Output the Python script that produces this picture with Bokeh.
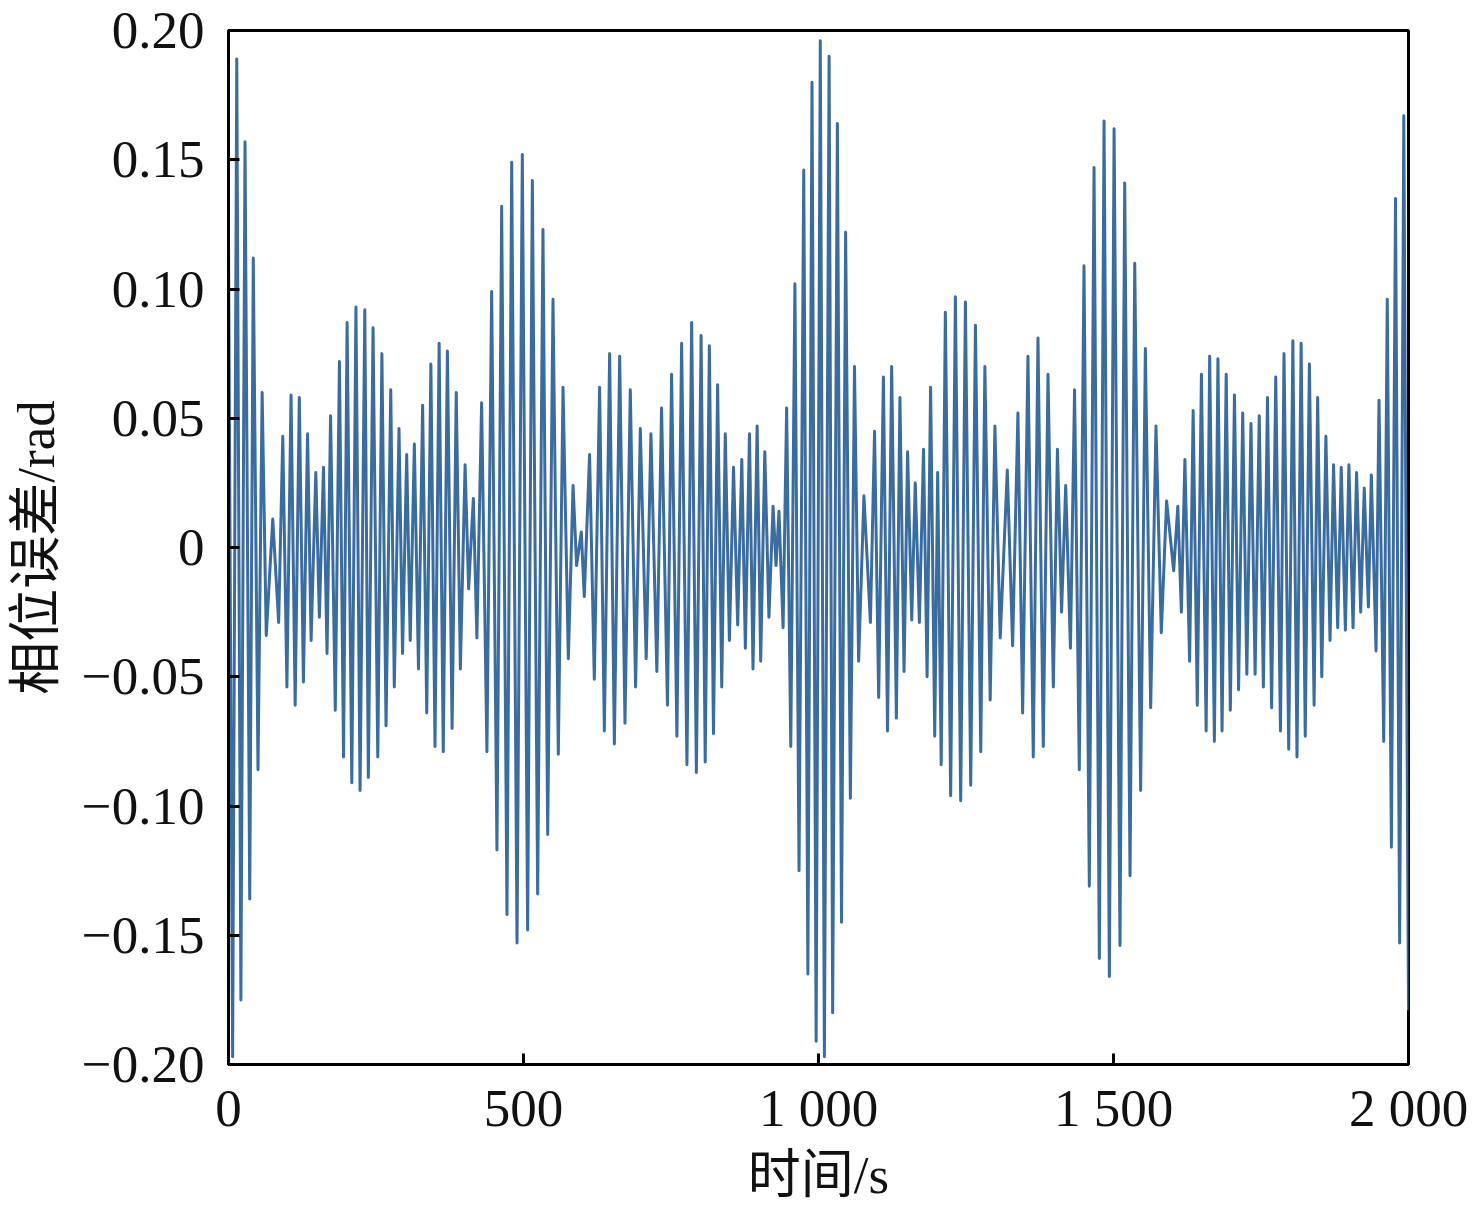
import numpy as np
from bokeh.plotting import figure
from bokeh.models import FixedTicker, Range1d
from bokeh.embed import file_html
from bokeh.resources import INLINE

# Local maxima (time in s, phase error in rad)
peak_t = [14, 28, 42, 57, 75, 92, 106, 120, 134, 148, 161, 173, 188, 201, 216, 231, 245, 260,
          275, 289, 302, 315, 329, 343, 357, 371, 386, 401, 415, 429, 446, 463, 480, 498,
          515, 533, 550, 567, 584, 598, 612, 629, 646, 663, 681, 698, 716, 734, 751, 768,
          785, 801, 815, 829, 842, 856, 870, 883, 896, 909, 923, 933, 946, 960, 975, 989, 1003,
          1018, 1032, 1046, 1061, 1077, 1095, 1110, 1124, 1138, 1151, 1164, 1178, 1190, 1202,
          1215, 1232, 1249, 1266, 1282, 1299, 1320, 1338, 1355, 1372, 1389, 1405, 1419, 1434,
          1450, 1467, 1484, 1501,
          1519, 1536, 1554, 1572, 1590, 1609, 1621, 1635, 1649, 1663, 1677, 1691, 1705, 1719,
          1733, 1747, 1761, 1775, 1789, 1804, 1818, 1832, 1846, 1860, 1873, 1886, 1899, 1912,
          1925, 1937, 1950, 1964, 1978, 1992]
peak_v = [0.189, 0.157, 0.112, 0.060, 0.011, 0.043, 0.059, 0.058, 0.044, 0.029, 0.031, 0.051,
          0.072, 0.087, 0.093, 0.092, 0.085, 0.075, 0.061, 0.046, 0.036, 0.040, 0.055, 0.071,
          0.079, 0.076, 0.060, 0.032, 0.019, 0.056, 0.099, 0.132, 0.149, 0.152,
          0.142, 0.123, 0.096, 0.062, 0.024, 0.006, 0.036, 0.062, 0.075, 0.074, 0.061, 0.046,
          0.044, 0.054, 0.067, 0.079, 0.087, 0.082, 0.078, 0.063, 0.044, 0.031, 0.034, 0.044,
          0.047, 0.037, 0.016, 0.014, 0.054, 0.102, 0.146, 0.180, 0.196,
          0.190, 0.164, 0.122, 0.070, 0.020, 0.045, 0.066, 0.070, 0.058, 0.037, 0.025, 0.038,
          0.062, 0.029, 0.091, 0.097, 0.095, 0.086, 0.070, 0.047, 0.030, 0.052, 0.074, 0.081,
          0.067, 0.038, 0.024, 0.061, 0.109, 0.147, 0.165, 0.162,
          0.141, 0.110, 0.077, 0.047, 0.018, 0.016, 0.034, 0.053, 0.067, 0.074, 0.073, 0.067,
          0.059, 0.052, 0.048, 0.051, 0.058, 0.066, 0.075, 0.080, 0.079, 0.071, 0.058, 0.043,
          0.032, 0.031, 0.032, 0.029, 0.023, 0.028, 0.057, 0.096, 0.135, 0.167]

# Local minima
trough_t = [7, 21, 36, 50, 64, 85, 99, 113, 127, 140, 154, 167, 181, 195, 209, 223, 237, 253,
            267, 281, 295, 308, 322, 336, 350, 364, 379, 393, 407, 421, 438, 455, 472, 489,
            507, 524, 541, 559, 576, 590, 603, 620, 637, 654, 672, 690, 708, 726, 744, 760,
            777, 793, 808, 822, 836, 849, 863, 876, 889, 902, 916, 928, 940, 953, 967, 982, 996,
            1010, 1024, 1039, 1054, 1068, 1088, 1102, 1117, 1132, 1145, 1158, 1171, 1184, 1197,
            1208, 1224, 1241, 1258, 1275, 1291, 1308, 1329, 1346, 1364, 1381, 1398, 1412, 1427,
            1442, 1459, 1476, 1493,
            1511, 1528, 1546, 1563, 1581, 1602, 1615, 1629, 1642, 1657, 1671, 1684, 1698, 1712,
            1726, 1740, 1754, 1768, 1783, 1797, 1811, 1825, 1840, 1853, 1867, 1880, 1893, 1906,
            1919, 1932, 1945, 1958, 1971, 1985]
trough_v = [-0.197, -0.175, -0.136, -0.086, -0.034, -0.029, -0.054, -0.061, -0.052, -0.036,
            -0.027, -0.041, -0.063, -0.081, -0.091, -0.094, -0.089, -0.081, -0.069, -0.054,
            -0.041, -0.036, -0.047, -0.064, -0.077, -0.079, -0.070, -0.047, -0.016, -0.035,
            -0.079, -0.117, -0.142, -0.153,
            -0.148, -0.134, -0.111, -0.080, -0.043, -0.007, -0.019, -0.051, -0.071, -0.076,
            -0.068, -0.054, -0.043, -0.048, -0.061, -0.073, -0.084, -0.087, -0.083, -0.072,
            -0.054, -0.036, -0.030, -0.039, -0.047, -0.044, -0.027, -0.007, -0.031, -0.077,
            -0.125, -0.165, -0.191,
            -0.197, -0.180, -0.145, -0.097, -0.044, -0.029, -0.058, -0.071, -0.066, -0.048,
            -0.028, -0.029, -0.050, -0.073, -0.084, -0.096, -0.098, -0.092, -0.079, -0.059,
            -0.035, -0.038, -0.064, -0.081, -0.077, -0.054, -0.025, -0.039, -0.086, -0.131,
            -0.159, -0.166,
            -0.154, -0.127, -0.094, -0.062, -0.033, -0.009, -0.025, -0.044, -0.061, -0.071,
            -0.075, -0.071, -0.063, -0.055, -0.049, -0.049, -0.054, -0.062, -0.071, -0.078,
            -0.081, -0.073, -0.061, -0.050, -0.036, -0.031, -0.032, -0.031, -0.025, -0.023,
            -0.040, -0.075, -0.116, -0.153]

# start / end samples
edge_t = [0, 2000]
edge_v = [0.12, -0.179]

x_ticks = [0, 500, 1000, 1500, 2000]
x_labels = ["0", "500", "1 000", "1 500", "2 000"]
y_ticks = [-0.20, -0.15, -0.10, -0.05, 0.0, 0.05, 0.10, 0.15, 0.20]
y_labels = ["\u22120.20", "\u22120.15", "\u22120.10", "\u22120.05", "0",
            "0.05", "0.10", "0.15", "0.20"]

t = np.array(peak_t + trough_t + edge_t, dtype=float)
v = np.array(peak_v + trough_v + edge_v, dtype=float)
order = np.argsort(t, kind="stable")
t, v = t[order], v[order]

SERIF = "Liberation Serif, Noto Sans CJK SC"

p = figure(width=1472, height=1210, output_backend="svg", toolbar_location=None,
           x_range=Range1d(0, 2000), y_range=Range1d(-0.20, 0.20),
           min_border_left=228, min_border_right=64, min_border_top=30,
           min_border_bottom=146)

p.line(t, v, line_color="#3b6c9f", line_width=3, line_join="round")

p.grid.visible = False
p.outline_line_color = "black"
p.outline_line_width = 3
p.outline_line_alpha = 1.0
p.background_fill_color = "white"
p.border_fill_color = "white"

for ax in (p.xaxis[0], p.yaxis[0]):
    ax.axis_line_color = "black"
    ax.axis_line_width = 3
    ax.major_tick_line_color = "black"
    ax.major_tick_line_width = 3
    ax.major_tick_in = 11
    ax.major_tick_out = 0
    ax.minor_tick_line_color = None
    ax.major_label_text_font = SERIF
    ax.major_label_text_font_size = "53px"
    ax.major_label_text_color = "#111111"
    ax.axis_label_text_font = SERIF
    ax.axis_label_text_font_size = "53px"
    ax.axis_label_text_font_style = "normal"
    ax.axis_label_text_color = "#111111"

p.xaxis.ticker = FixedTicker(ticks=x_ticks)
p.xaxis.major_label_overrides = {k: s for k, s in zip(x_ticks, x_labels)}
p.yaxis.ticker = FixedTicker(ticks=y_ticks)
p.yaxis.major_label_overrides = {k: s for k, s in zip(y_ticks, y_labels)}

p.xaxis.axis_label = "时间/s"
p.yaxis.axis_label = "相位误差/rad"
p.xaxis.major_label_standoff = 14
p.yaxis.major_label_standoff = 24
p.xaxis.axis_label_standoff = 6
p.yaxis.axis_label_standoff = 14

open("out.html", "w").write(file_html(p, INLINE))
